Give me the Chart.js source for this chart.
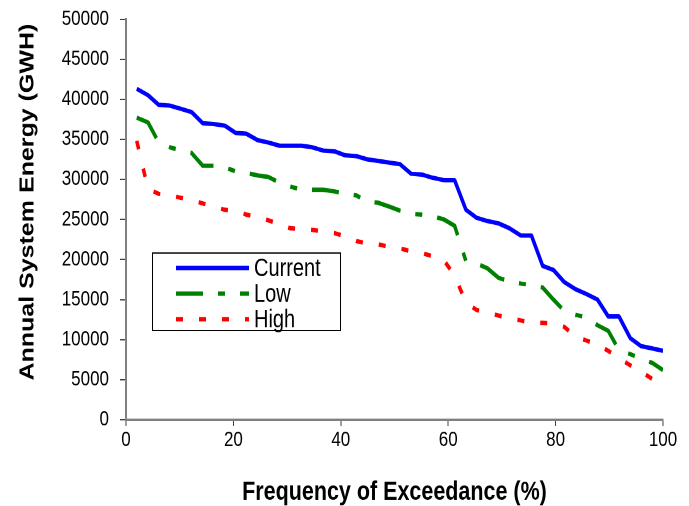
<!DOCTYPE html>
<html lang="en">

<head>
    <meta charset="UTF-8">
    <title>Annual system energy exceedance</title>
    <script src="https://cdn.jsdelivr.net/npm/chart.js@4/dist/chart.umd.min.js"></script>
    <style>
        body { margin: 0; background: #fff; }
        /* the chart is drawn 689x405 and shown taller, like the old exported figure */
        #myChart { display: block; width: 689px !important; height: 506px !important; }
    </style>
</head>

<body>
    <canvas id="myChart" width="689" height="405" style="width:689px;height:506px"></canvas>

    <script>
        // Frequency of exceedance (%) for each ranked year
        var exceedance = [2.0, 4.1, 6.1, 8.2, 10.2, 12.2, 14.3, 16.3, 18.4, 20.4,
            22.4, 24.5, 26.5, 28.6, 30.6, 32.7, 34.7, 36.7, 38.8, 40.8,
            42.9, 44.9, 46.9, 49.0, 51.0, 53.1, 55.1, 57.1, 59.2, 61.2,
            63.3, 65.3, 67.3, 69.4, 71.4, 73.5, 75.5, 77.6, 79.6, 81.6,
            83.7, 85.7, 87.8, 89.8, 91.8, 93.9, 95.9, 98.0, 100];

        // Annual system energy (GWH)
        var current = [41300, 40500, 39300, 39200, 38800, 38400, 37000, 36900, 36700, 35800,
            35700, 34900, 34600, 34200, 34200, 34200, 34000, 33600, 33500, 33000,
            32900, 32500, 32300, 32100, 31900, 30700, 30600, 30200, 29900, 29900,
            26200, 25200, 24800, 24500, 23900, 23000, 23000, 19200, 18700, 17200,
            16300, 15700, 15000, 12900, 12900, 10200, 9200, 8900, 8600];

        var low = [37700, 37100, 34600, 34000, 33600, 33300, 31700, 31700, 31500, 31000,
            30800, 30500, 30300, 29600, 29100, 28700, 28700, 28700, 28500, 28200,
            28000, 27200, 27100, 26600, 26100, 25700, 25600, 25400, 25000, 24200,
            19800, 19500, 18900, 17700, 17300, 17000, 16800, 16500, 15000, 13600,
            13100, 12800, 11800, 11100, 8700, 8200, 7600, 7100, 6200];

        var high = [34800, 28800, 28200, 28000, 27700, 27400, 27000, 26600, 26200, 26100,
            25600, 25300, 24900, 24400, 23900, 23800, 23700, 23500, 23300, 22900,
            22300, 22000, 21900, 21600, 21400, 21000, 20800, 20400, 19900, 18000,
            14600, 13700, 13400, 13000, 12700, 12400, 12100, 12100, 12000, 11600,
            10400, 9900, 9400, 8600, 7700, 6800, 6000, 5100, 4500];

        var seriesNames = ["Current", "Low", "High"];
        var yTicks = [0, 5000, 10000, 15000, 20000, 25000, 30000, 35000, 40000, 45000, 50000];
        var xTicks = [0, 20, 40, 60, 80, 100];

        function points(values) {
            return values.map(function (v, i) {
                return { x: exceedance[i], y: v };
            });
        }

        // Boxed legend inside the plot, using each dataset's own line style
        var boxLegend = {
            id: "boxLegend",
            afterDraw: function (chart) {
                var ctx = chart.ctx;
                var left = 152, top = 202, w = 188, h = 62;
                ctx.save();
                ctx.fillStyle = "#fff";
                ctx.fillRect(left, top, w, h);
                ctx.strokeStyle = "#000";
                ctx.lineWidth = 1;
                ctx.strokeRect(left + 0.5, top + 0.5, w, h);
                ctx.font = "20px 'Liberation Sans', Arial, sans-serif";
                ctx.textBaseline = "middle";
                chart.data.datasets.forEach(function (ds, i) {
                    var y = top + 12.5 + i * 20.5;
                    ctx.beginPath();
                    ctx.strokeStyle = ds.borderColor;
                    ctx.lineWidth = ds.borderWidth;
                    ctx.setLineDash(ds.borderDash || []);
                    ctx.moveTo(176, y);
                    ctx.lineTo(249, y);
                    ctx.stroke();
                    ctx.setLineDash([]);
                    ctx.fillStyle = "#000";
                    ctx.fillText(ds.label, 254, y + 1);
                });
                ctx.restore();
            }
        };

        Chart.defaults.font.family = "'Liberation Sans', Arial, sans-serif";
        Chart.defaults.color = "#000";

        var chart = new Chart(document.getElementById("myChart"), {
            type: "line",
            data: {
                datasets: [{
                    label: seriesNames[0],
                    data: points(current),
                    borderColor: "#0000ff",
                    borderWidth: 3.5
                }, {
                    label: seriesNames[1],
                    data: points(low),
                    borderColor: "#008000",
                    borderWidth: 3.5,
                    borderDash: [27, 15, 7, 15]
                }, {
                    label: seriesNames[2],
                    data: points(high),
                    borderColor: "#ff0000",
                    borderWidth: 3.5,
                    borderDash: [7, 16]
                }]
            },
            options: {
                responsive: false,
                devicePixelRatio: 2,
                animation: false,
                elements: {
                    point: { radius: 0 },
                    line: { tension: 0, borderCapStyle: "butt", borderJoinStyle: "round" }
                },
                layout: { padding: { top: 0, right: 26, left: 0, bottom: 0 } },
                plugins: {
                    legend: { display: false },
                    tooltip: { enabled: false }
                },
                scales: {
                    x: {
                        type: "linear",
                        min: 0,
                        max: 100,
                        afterBuildTicks: function (scale) {
                            scale.ticks = xTicks.map(function (v) { return { value: v }; });
                        },
                        afterFit: function (scale) { scale.height = 69; },
                        ticks: { font: { size: 17 }, padding: 1, maxRotation: 0 },
                        grid: { drawOnChartArea: false, tickLength: 5, color: "#404040", lineWidth: 1 },
                        border: { color: "#808080", width: 2 },
                        title: {
                            display: true,
                            text: "Frequency of Exceedance (%)",
                            font: { size: 21.5, weight: "bold", lineHeight: 1 },
                            padding: { top: 0, bottom: 0 }
                        }
                    },
                    y: {
                        min: 0,
                        max: 50000,
                        afterBuildTicks: function (scale) {
                            scale.ticks = yTicks.map(function (v) { return { value: v }; });
                        },
                        afterFit: function (scale) { scale.width = 126; },
                        ticks: {
                            font: { size: 17, lineHeight: 0.5 },
                            padding: 11,
                            callback: function (v) { return String(v); }
                        },
                        grid: { drawOnChartArea: false, tickLength: 6, color: "#404040", lineWidth: 1 },
                        border: { color: "#808080", width: 2 },
                        title: {
                            display: true,
                            text: "     Annual System Energy (GWH)",
                            font: { size: 20, weight: "bold" },
                            padding: { top: 16, bottom: 0 }
                        }
                    }
                }
            },
            plugins: [boxLegend]
        });
    </script>
</body>

</html>
